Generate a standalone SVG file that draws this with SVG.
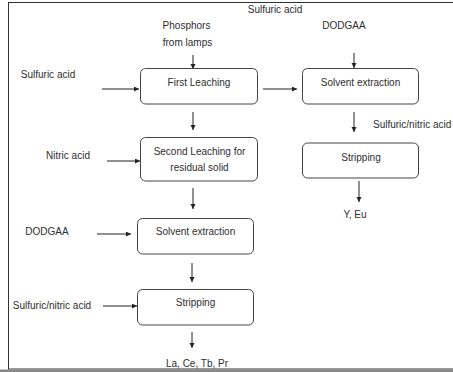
<svg xmlns="http://www.w3.org/2000/svg" width="453" height="372" viewBox="0 0 453 372">
<style>
text{font-family:"Liberation Sans",Arial,sans-serif;font-size:10px;fill:#2e2e2e;text-anchor:middle}
.s{text-anchor:start}
.box{fill:#fff;stroke:#444;stroke-width:1}
.c{stroke:#222;stroke-width:1;fill:none;marker-end:url(#ah)}
</style>
<defs>
<marker id="ah" markerUnits="userSpaceOnUse" markerWidth="6" markerHeight="6" refX="5" refY="2.5" orient="auto">
<path d="M0,0 L5,2.5 L0,5 z" fill="#222"/>
</marker>
</defs>
<rect x="0" y="0" width="453" height="372" fill="#fff"/>
<rect x="8.5" y="2.5" width="460" height="366.5" fill="none" stroke="#333" stroke-width="1"/>
<rect x="0" y="369.5" width="453" height="2.5" fill="#888"/>

<g id="connectors">
<line class="c" x1="193" y1="55" x2="193" y2="69"/>
<line class="c" x1="102" y1="89" x2="139" y2="89"/>
<line class="c" x1="193" y1="112" x2="193" y2="130"/>
<line class="c" x1="263" y1="89" x2="297" y2="89"/>
<line class="c" x1="354" y1="53" x2="354" y2="68"/>
<line class="c" x1="354" y1="112" x2="354" y2="132"/>
<line class="c" x1="359" y1="181" x2="359" y2="202"/>
<line class="c" x1="107" y1="161" x2="140" y2="161"/>
<line class="c" x1="193" y1="188" x2="193" y2="209"/>
<line class="c" x1="97" y1="234" x2="131" y2="234"/>
<line class="c" x1="192" y1="263" x2="192" y2="282"/>
<line class="c" x1="103" y1="306" x2="137" y2="306"/>
<line class="c" x1="192" y1="332" x2="192" y2="348"/>
</g>

<g id="first-leaching">
<rect class="box" x="140.5" y="68.5" width="117" height="35.5" rx="5"/>
<text x="199" y="85.5">First Leaching</text>
</g>
<g id="second-leaching">
<rect class="box" x="140.5" y="137.5" width="117" height="43.5" rx="5"/>
<text x="199.5" y="154.5">Second Leaching for</text>
<text x="199.5" y="170.5">residual solid</text>
</g>
<g id="solvent-extraction-right">
<rect class="box" x="302.5" y="68.5" width="116" height="35.5" rx="5"/>
<text x="360.5" y="85.5">Solvent extraction</text>
</g>
<g id="stripping-right">
<rect class="box" x="302.5" y="143" width="116" height="35" rx="5"/>
<text x="361" y="160.5">Stripping</text>
</g>
<g id="solvent-extraction-left">
<rect class="box" x="137.5" y="218.5" width="116" height="35.5" rx="5"/>
<text x="195.5" y="234.5">Solvent extraction</text>
</g>
<g id="stripping-left">
<rect class="box" x="137.5" y="289.5" width="116" height="35.5" rx="5"/>
<text x="195.5" y="305.5">Stripping</text>
</g>

<g id="labels">
<text x="186.5" y="28.5">Phosphors</text>
<text x="187.5" y="45.5">from lamps</text>
<text x="275" y="12.5">Sulfuric acid</text>
<text x="344" y="28.5">DODGAA</text>
<text x="48" y="77.5">Sulfuric acid</text>
<text x="68" y="158.5">Nitric acid</text>
<text class="s" x="373" y="128">Sulfuric/nitric acid</text>
<text x="355" y="217.5">Y, Eu</text>
<text x="47" y="234.5">DODGAA</text>
<text x="52" y="308.5">Sulfuric/nitric acid</text>
<text x="197" y="366.5">La, Ce, Tb, Pr</text>
</g>
</svg>
